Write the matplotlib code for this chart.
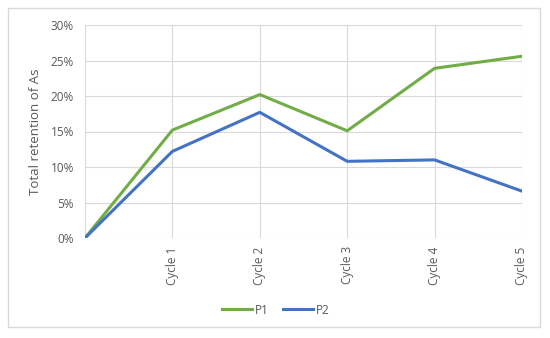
import matplotlib.pyplot as plt
from matplotlib.patches import Rectangle
from matplotlib.ticker import PercentFormatter

categories = ["", "Cycle 1", "Cycle 2", "Cycle 3", "Cycle 4", "Cycle 5"]
p1 = [0.0, 15.2, 20.2, 15.1, 23.9, 25.6]
p2 = [0.0, 12.2, 17.7, 10.8, 11.0, 6.6]

plt.rcParams['font.family'] = ['Open Sans', 'DejaVu Sans']

fig = plt.figure(figsize=(5.5, 3.38), dpi=100)
fig.patches.append(Rectangle((8 / 550, 11 / 338), 532 / 550, 319 / 338,
                             transform=fig.transFigure, fill=False,
                             edgecolor="#d9d9d9", linewidth=1))
ax = fig.add_axes([85 / 550, 100 / 338, 437 / 550, 213 / 338])

x = range(len(categories))
ax.plot(x, p1, color="#70ad47", linewidth=2.2, label="P1")
ax.plot(x, p2, color="#4472c4", linewidth=2.2, label="P2")

ax.set_xlim(0, len(categories) - 1)
ax.set_ylim(0, 30)
ax.set_yticks(range(0, 31, 5))
ax.yaxis.set_major_formatter(PercentFormatter(decimals=0))
ax.set_xticks(list(x))
ax.set_xticklabels(categories, rotation=90)
ax.grid(True, color="#d9d9d9", linewidth=0.8)
ax.set_axisbelow(True)
for s in ax.spines.values():
    s.set_visible(False)
ax.tick_params(length=0, colors="#595959", labelsize=8.5)
ax.tick_params(axis="y", pad=8)
ax.tick_params(axis="x", pad=6)
ax.set_ylabel("Total retention of As", color="#595959", fontsize=9.5, labelpad=6)

fig.legend(loc="center", bbox_to_anchor=(276 / 550, 1 - 310 / 338), ncol=2,
           frameon=False, fontsize=8.5, handlelength=2.5, columnspacing=1.2,
           handletextpad=0.3, labelcolor="#595959")

fig.savefig("out.png", dpi=100)
